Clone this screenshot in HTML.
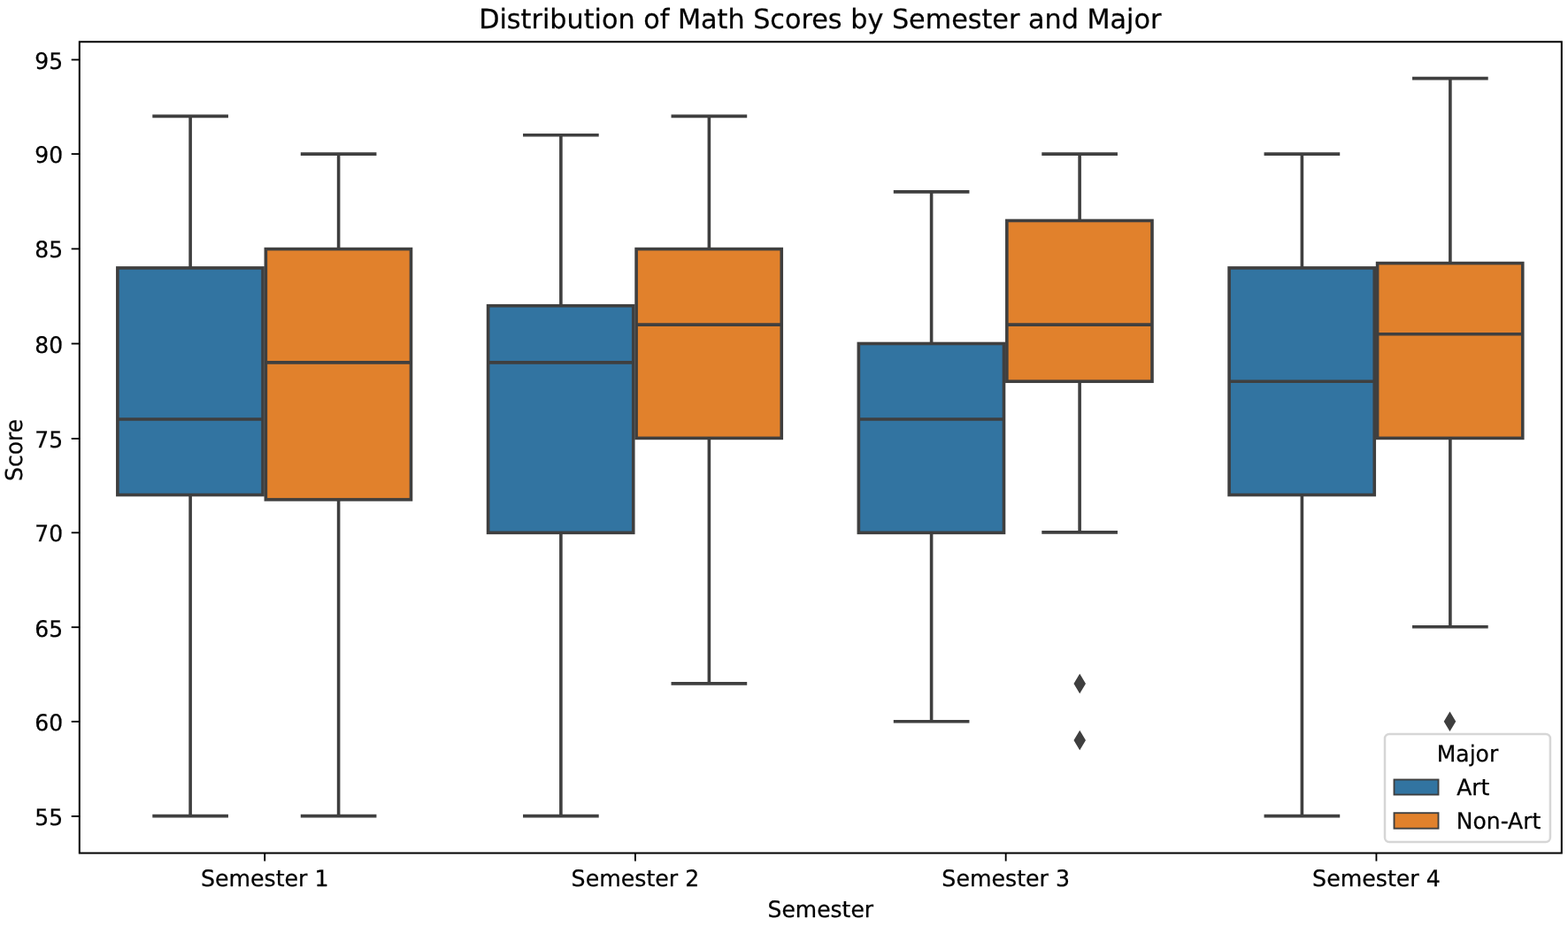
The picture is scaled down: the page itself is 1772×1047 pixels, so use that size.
<!DOCTYPE html>
<html lang="en">
<head>
<meta charset="utf-8">
<title>Distribution of Math Scores by Semester and Major</title>
<style>
html,body{margin:0;padding:0;background:#fff;}
body{width:1772px;height:1047px;overflow:hidden;font-family:"DejaVu Sans", "Liberation Sans", sans-serif;}
svg{display:block;}
text{text-rendering:geometricPrecision;stroke:#000;stroke-width:0.25px;stroke-linejoin:round;}
</style>
</head>
<body>
<svg width="1772" height="1047" viewBox="0 0 1772 1047" font-family='"DejaVu Sans", "Liberation Sans", sans-serif' fill="#000">
<rect x="0" y="0" width="1772" height="1047" fill="#fff"/>
<g stroke="#3f3f3f" stroke-width="3.6" fill="none">
<rect x="132.85" y="302.94" width="164.15" height="256.62" fill="#3274a1" stroke-linejoin="miter"/>
<path d="M215.12 559.56V922.60M215.12 302.94V131.36" stroke-linecap="butt"/>
<path d="M174.09 922.60H256.16M174.09 131.36H256.16" stroke-linecap="square"/>
<path d="M132.85 474.02H297.00" stroke-linecap="butt"/>
</g>
<g stroke="#3f3f3f" stroke-width="3.6" fill="none">
<rect x="300.35" y="281.55" width="164.15" height="283.35" fill="#e1812c" stroke-linejoin="miter"/>
<path d="M382.62 564.90V922.60M382.62 281.55V174.13" stroke-linecap="butt"/>
<path d="M341.59 922.60H423.66M341.59 174.13H423.66" stroke-linecap="square"/>
<path d="M300.35 409.86H464.50" stroke-linecap="butt"/>
</g>
<g stroke="#3f3f3f" stroke-width="3.6" fill="none">
<rect x="551.60" y="345.71" width="164.15" height="256.62" fill="#3274a1" stroke-linejoin="miter"/>
<path d="M633.88 602.33V922.60M633.88 345.71V152.74" stroke-linecap="butt"/>
<path d="M592.84 922.60H674.91M592.84 152.74H674.91" stroke-linecap="square"/>
<path d="M551.60 409.86H715.75" stroke-linecap="butt"/>
</g>
<g stroke="#3f3f3f" stroke-width="3.6" fill="none">
<rect x="719.10" y="281.55" width="164.15" height="213.85" fill="#e1812c" stroke-linejoin="miter"/>
<path d="M801.38 495.40V772.90M801.38 281.55V131.36" stroke-linecap="butt"/>
<path d="M760.34 772.90H842.41M760.34 131.36H842.41" stroke-linecap="square"/>
<path d="M719.10 367.09H883.25" stroke-linecap="butt"/>
</g>
<g stroke="#3f3f3f" stroke-width="3.6" fill="none">
<rect x="970.35" y="388.48" width="164.15" height="213.85" fill="#3274a1" stroke-linejoin="miter"/>
<path d="M1052.62 602.33V815.68M1052.62 388.48V216.90" stroke-linecap="butt"/>
<path d="M1011.59 815.68H1093.66M1011.59 216.90H1093.66" stroke-linecap="square"/>
<path d="M970.35 474.02H1134.50" stroke-linecap="butt"/>
</g>
<g stroke="#3f3f3f" stroke-width="3.6" fill="none">
<rect x="1137.85" y="249.47" width="164.15" height="181.77" fill="#e1812c" stroke-linejoin="miter"/>
<path d="M1220.12 431.25V601.83M1220.12 249.47V174.13" stroke-linecap="butt"/>
<path d="M1179.09 601.83H1261.16M1179.09 174.13H1261.16" stroke-linecap="square"/>
<path d="M1137.85 367.09H1302.00" stroke-linecap="butt"/>
</g>
<path d="M1220.22 764.07L1225.53 772.90L1220.22 781.74L1214.92 772.90Z" fill="#3f3f3f" stroke="#3f3f3f" stroke-width="2.5" stroke-linejoin="miter"/>
<path d="M1220.22 828.22L1225.53 837.06L1220.22 845.90L1214.92 837.06Z" fill="#3f3f3f" stroke="#3f3f3f" stroke-width="2.5" stroke-linejoin="miter"/>
<g stroke="#3f3f3f" stroke-width="3.6" fill="none">
<rect x="1389.10" y="302.94" width="164.15" height="256.62" fill="#3274a1" stroke-linejoin="miter"/>
<path d="M1471.38 559.56V922.60M1471.38 302.94V174.13" stroke-linecap="butt"/>
<path d="M1430.34 922.60H1512.41M1430.34 174.13H1512.41" stroke-linecap="square"/>
<path d="M1389.10 431.25H1553.25" stroke-linecap="butt"/>
</g>
<g stroke="#3f3f3f" stroke-width="3.6" fill="none">
<rect x="1556.60" y="297.59" width="164.15" height="197.81" fill="#e1812c" stroke-linejoin="miter"/>
<path d="M1638.88 495.40V708.75M1638.88 297.59V88.59" stroke-linecap="butt"/>
<path d="M1597.84 708.75H1679.91M1597.84 88.59H1679.91" stroke-linecap="square"/>
<path d="M1556.60 377.78H1720.75" stroke-linecap="butt"/>
</g>
<path d="M1638.47 806.84L1643.78 815.68L1638.47 824.51L1633.17 815.68Z" fill="#3f3f3f" stroke="#3f3f3f" stroke-width="2.5" stroke-linejoin="miter"/>
<rect x="89.80" y="47.28" width="1675.00" height="917.27" fill="none" stroke="#000" stroke-width="2" stroke-linejoin="miter"/>
<g stroke="#000" stroke-width="1.85">
<path d="M89.80 922.94H80.70"/>
<path d="M89.80 815.86H80.70"/>
<path d="M89.80 709.19H80.70"/>
<path d="M89.80 602.31H80.70"/>
<path d="M89.80 495.94H80.70"/>
<path d="M89.80 388.56H80.70"/>
<path d="M89.80 281.38H80.70"/>
<path d="M89.80 174.11H80.70"/>
<path d="M89.80 67.53H80.70"/>
<path d="M299.18 964.55V973.65"/>
<path d="M717.92 964.55V973.65"/>
<path d="M1136.67 964.55V973.65"/>
<path d="M1555.42 964.55V973.65"/>
</g>
<text transform="translate(71.10 933.29) scale(1 1.02)" font-size="25px" text-anchor="end">55</text>
<text transform="translate(71.10 825.61) scale(1 1.02)" font-size="25px" text-anchor="end">60</text>
<text transform="translate(71.10 719.54) scale(1 1.02)" font-size="25px" text-anchor="end">65</text>
<text transform="translate(71.10 612.36) scale(1 1.02)" font-size="25px" text-anchor="end">70</text>
<text transform="translate(71.10 506.49) scale(1 1.02)" font-size="25px" text-anchor="end">75</text>
<text transform="translate(71.10 398.61) scale(1 1.02)" font-size="25px" text-anchor="end">80</text>
<text transform="translate(71.10 290.93) scale(1 1.02)" font-size="25px" text-anchor="end">85</text>
<text transform="translate(71.10 183.96) scale(1 1.02)" font-size="25px" text-anchor="end">90</text>
<text transform="translate(71.10 77.58) scale(1 1.02)" font-size="25px" text-anchor="end">95</text>
<text transform="translate(299.18 1002.20) scale(1 1.02)" font-size="25px" text-anchor="middle" textLength="144.6" lengthAdjust="spacingAndGlyphs">Semester 1</text>
<text transform="translate(717.92 1002.20) scale(1 1.02)" font-size="25px" text-anchor="middle" textLength="144.6" lengthAdjust="spacingAndGlyphs">Semester 2</text>
<text transform="translate(1136.67 1002.20) scale(1 1.02)" font-size="25px" text-anchor="middle" textLength="144.6" lengthAdjust="spacingAndGlyphs">Semester 3</text>
<text transform="translate(1555.42 1002.20) scale(1 1.02)" font-size="25px" text-anchor="middle" textLength="144.6" lengthAdjust="spacingAndGlyphs">Semester 4</text>
<text transform="translate(927.30 1037.20) scale(1 1.02)" font-size="25px" text-anchor="middle">Semester</text>
<text transform="translate(25.10 508.91) rotate(-90) scale(1 1.045)" font-size="25px" text-anchor="middle">Score</text>
<text transform="translate(926.80 32.10) scale(1 1.008)" font-size="30.24px" text-anchor="middle">Distribution of Math Scores by Semester and Major</text>
<rect x="1565.0" y="830.0" width="186.90" height="122.10" rx="5" ry="5" fill="#fff" fill-opacity="0.8" stroke="#ccc" stroke-opacity="0.8" stroke-width="2.5"/>
<text transform="translate(1658.45 860.50) scale(1 1.02)" font-size="25px" text-anchor="middle">Major</text>
<rect x="1575.5" y="881.5" width="50" height="17.0" fill="#3274a1" stroke="#3f3f3f" stroke-width="1.875"/>
<rect x="1575.5" y="919.2" width="50" height="17.5" fill="#e1812c" stroke="#3f3f3f" stroke-width="1.875"/>
<text transform="translate(1646.20 898.90) scale(1 1.02)" font-size="25px" text-anchor="start">Art</text>
<text transform="translate(1645.80 937.00) scale(1 1.02)" font-size="25px" text-anchor="start">Non-Art</text>
</svg>
</body>
</html>
